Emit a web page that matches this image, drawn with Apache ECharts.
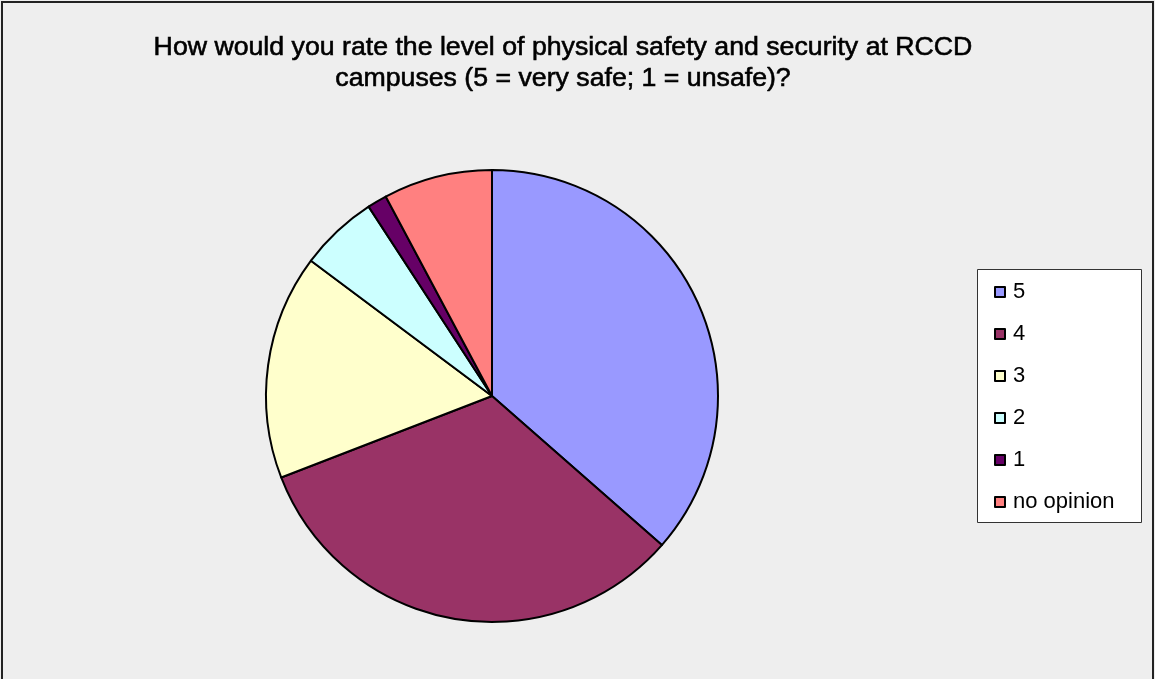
<!DOCTYPE html>
<html>
<head>
<meta charset="utf-8">
<script src="https://cdn.jsdelivr.net/npm/echarts@6/dist/echarts.min.js"></script>
<style>
  html, body { margin: 0; padding: 0; background: #eeeeee; }
  #chart { width: 1155px; height: 679px; }
</style>
</head>
<body>
<div id="chart"></div>
<script>
// Survey answers: share of respondents (%) per rating
const categories = ['5', '4', '3', '2', '1', 'no opinion'];
const shares = [36.5, 32.7, 16.1, 5.6, 1.4, 7.8];
const colors = ['#9999FF', '#993366', '#FFFFCC', '#CCFFFF', '#660066', '#FF8080'];
const titleText = 'How would you rate the level of physical safety and security at RCCD\ncampuses (5 = very safe; 1 = unsafe)?';

const chart = echarts.init(document.getElementById('chart'), null, { renderer: 'canvas' });

chart.setOption({
  backgroundColor: '#eeeeee',
  animation: false,
  color: colors,
  title: {
    text: titleText,
    left: 558,
    top: 27,
    textAlign: 'center',
    textStyle: {
      fontFamily: 'Liberation Sans',
      fontSize: 26.7,
      fontWeight: 'normal',
      color: '#000',
      lineHeight: 31,
      align: 'center',
      textBorderColor: '#000',
      textBorderWidth: 0.6
    }
  },
  graphic: [
    {
      type: 'rect',
      shape: { x: 2, y: 2, width: 1151, height: 700 },
      style: { fill: 'none', stroke: '#222', lineWidth: 2 },
      silent: true
    },
    {
      type: 'rect',
      shape: { x: 977.5, y: 269.5, width: 164, height: 253 },
      style: { fill: '#ffffff', stroke: '#333', lineWidth: 1 },
      silent: true,
      z: 0
    }
  ],
  legend: {
    orient: 'vertical',
    left: 994,
    top: 281,
    padding: 0,
    itemWidth: 10,
    itemHeight: 10,
    itemGap: 20,
    icon: 'rect',
    selectedMode: false,
    data: categories,
    itemStyle: { borderColor: '#000', borderWidth: 2 },
    textStyle: {
      fontFamily: 'Liberation Sans',
      fontSize: 22,
      lineHeight: 22,
      color: '#000',
      padding: [0, 0, 0, 3]
    },
    z: 5
  },
  series: [{
    type: 'pie',
    center: [492, 396],
    radius: 226,
    startAngle: 90,
    clockwise: true,
    label: { show: false },
    labelLine: { show: false },
    emphasis: { disabled: true },
    itemStyle: { borderColor: '#000', borderWidth: 2 },
    data: categories.map((name, i) => ({ name, value: shares[i] }))
  }]
});
</script>
</body>
</html>
